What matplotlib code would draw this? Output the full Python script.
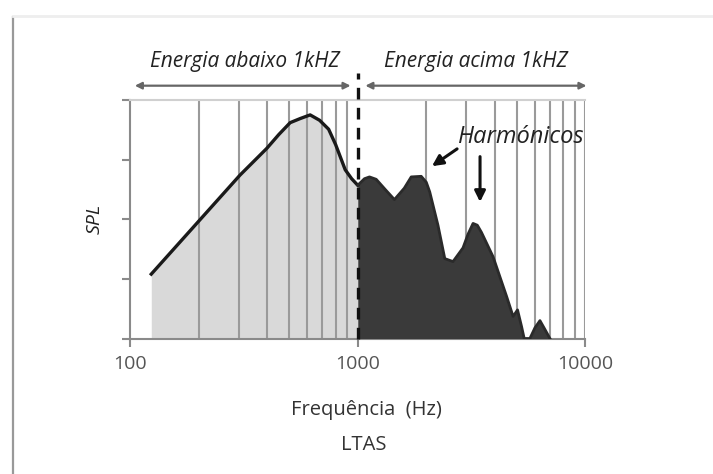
import matplotlib
matplotlib.use("Agg")
import matplotlib.pyplot as plt
from matplotlib.lines import Line2D

# LTAS curve, below 1 kHz (light area)
freq_low = [124, 304, 399, 450, 505, 560, 618, 680, 745, 800, 881, 940, 1000]
spl_low = [1.08, 2.74, 3.19, 3.42, 3.62, 3.69, 3.75, 3.66, 3.51, 3.25, 2.83, 2.68, 2.57]

# LTAS curve, above 1 kHz (dark area)
freq_high = [1000, 1070, 1126, 1205, 1320, 1449, 1600, 1717, 1900, 2000, 2070,
             2250, 2411, 2620, 2750, 2898, 3050, 3208, 3350, 3493, 3929, 4500,
             4810, 5030, 5240, 5380, 5700, 6000, 6310, 6640, 6980]
spl_high = [2.57, 2.68, 2.71, 2.67, 2.50, 2.33, 2.52, 2.71, 2.72, 2.62, 2.46,
            1.90, 1.34, 1.29, 1.40, 1.52, 1.75, 1.93, 1.90, 1.78, 1.37, 0.71,
            0.37, 0.48, 0.20, 0.0, 0.0, 0.18, 0.30, 0.15, 0.0]

grid_freqs = [200, 300, 400, 500, 600, 700, 800, 900,
              2000, 3000, 4000, 5000, 6000, 7000, 8000, 9000, 10000]
xtick_vals = [100, 1000, 10000]
xtick_labels = ["100", "1000", "10000"]

ital = dict(family="Open Sans", style="italic", color="#222222")
norm = dict(family="Open Sans", color="#333333")

fig = plt.figure(figsize=(7.13, 4.74), dpi=100)
# photo frame
fig.add_artist(Line2D([12.5 / 713, 12.5 / 713], [0, 1 - 17 / 474], color="#999999", lw=1.6))
fig.add_artist(Line2D([12.5 / 713, 1], [1 - 16 / 474, 1 - 16 / 474], color="#eeeeee", lw=2))

ax = fig.add_axes([130 / 713, (474 - 338.5) / 474, 455.5 / 713, 238.5 / 474])
ax.set_xscale("log")
ax.set_xlim(100, 10000)
ax.set_ylim(0, 4)

ax.fill_between(freq_low, spl_low, 0, color="#d9d9d9", lw=0, zorder=1)
for f in grid_freqs:
    ax.axvline(f, color="#9a9a9a", lw=1.5, zorder=2)
ax.plot(freq_low, spl_low, color="#1a1a1a", lw=2.4, zorder=4)
ax.fill_between(freq_high, spl_high, 0, color="#3a3a3a", lw=0, zorder=3)
ax.plot(freq_high, spl_high, color="#2a2a2a", lw=2.0, zorder=4)

ax.plot([1000, 1000], [0, 4.45], color="#111111", lw=2.4, ls=(0, (3.5, 2.5)),
        clip_on=False, zorder=5)

for s in ["left", "bottom"]:
    ax.spines[s].set_color("#8a8a8a")
    ax.spines[s].set_linewidth(1.5)
ax.spines["top"].set_color("#d0d0d0")
ax.spines["top"].set_linewidth(1.5)
ax.spines["right"].set_visible(False)

ax.set_xticks(xtick_vals)
ax.set_xticklabels(xtick_labels)
ax.xaxis.set_minor_locator(matplotlib.ticker.NullLocator())
ax.set_yticks([0, 1, 2, 3, 4])
ax.set_yticklabels([])
ax.tick_params(axis="both", direction="out", length=6, width=1.5, color="#8a8a8a")
ax.tick_params(axis="x", labelsize=14, labelcolor="#555555", pad=6)
for t in ax.get_xticklabels():
    t.set_family("Open Sans")

ax.set_ylabel("SPL", fontsize=14, **ital)
ax.yaxis.set_label_coords(-26 / 455.5, 0.5)
ax.text(0.518, -0.30, "Frequência  (Hz)", transform=ax.transAxes,
        ha="center", va="center", fontsize=14.5, **norm)
ax.text(0.514, -0.445, "LTAS", transform=ax.transAxes,
        ha="center", va="center", fontsize=14.5, **norm)

# range arrows
arr = dict(arrowstyle="<|-|>", color="#666666", lw=1.6, mutation_scale=10,
           shrinkA=0, shrinkB=0)
ax.annotate("", xy=(105, 4.24), xytext=(930, 4.24), arrowprops=arr, annotation_clip=False)
ax.annotate("", xy=(1080, 4.24), xytext=(10100, 4.24), arrowprops=arr, annotation_clip=False)
ax.text(320, 4.64, "Energia abaixo 1kHZ", ha="center", va="center", fontsize=15, **ital)
ax.text(3310, 4.64, "Energia acima 1kHZ", ha="center", va="center", fontsize=15, **ital)

# harmonics
ax.text(5210, 3.38, "Harmónicos", ha="center", va="center", fontsize=17, zorder=6, **ital)
harr = dict(arrowstyle="-|>", color="#111111", lw=2.2, mutation_scale=16, shrinkA=0, shrinkB=0)
ax.annotate("", xy=(2118, 2.89), xytext=(2730, 3.18), arrowprops=harr)
ax.annotate("", xy=(3443, 2.29), xytext=(3443, 3.05), arrowprops=harr)

fig.savefig("out.png", dpi=100, facecolor="white")
